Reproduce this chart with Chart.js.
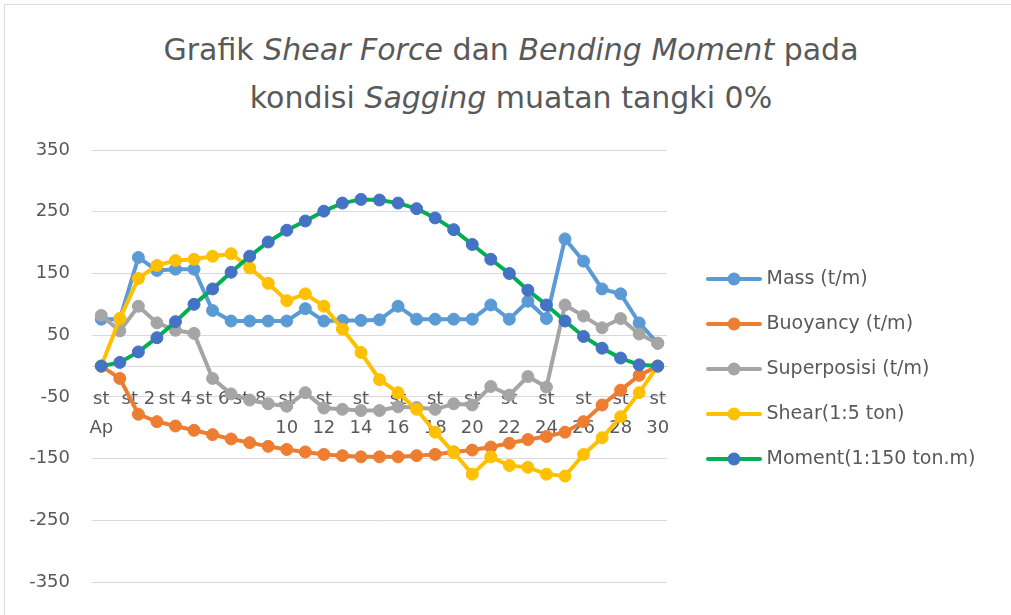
<!DOCTYPE html>
<html>
<head>
<meta charset="utf-8">
<script src="https://cdn.jsdelivr.net/npm/chart.js@4.4.1/dist/chart.umd.min.js"></script>
<style>
    html, body { margin: 0; padding: 0; background: #fff; overflow: hidden; }
    .chart-box { position: relative; width: 1011px; height: 615px; overflow: hidden; }
    .chart-frame { position: absolute; left: 4px; top: 4px; width: 1100px; height: 700px; border: 1px solid #d9d9d9; }
    .chart-title {
        position: absolute; left: 0; top: 26px; width: 1022px; text-align: center;
        font-family: "DejaVu Sans", sans-serif; font-size: 30px; line-height: 48px; color: #595959;
    }
    .chart-title i { font-style: italic; }
    canvas { position: absolute; left: 0; top: 0; }
</style>
</head>
<body>
<div class="chart-box">
    <div class="chart-frame"></div>
    <div class="chart-title">Grafik <i>Shear Force</i> dan <i>Bending Moment</i> pada<br>kondisi <i>Sagging</i> muatan tangki 0%</div>
    <canvas id="sf_bm_chart" width="1011" height="615"></canvas>
</div>
<script>
"use strict";

// Stations along the hull
var stations = ["st Ap", "st 1", "st 2", "st 3", "st 4", "st 5", "st 6", "st 7", "st 8", "st 9", "st 10",
    "st 11", "st 12", "st 13", "st 14", "st 15", "st 16", "st 17", "st 18", "st 19", "st 20",
    "st 21", "st 22", "st 23", "st 24", "st 25", "st 26", "st 27", "st 28", "st 29", "st 30"];

var massValues = [76, 76, 176, 155, 157, 157, 90, 73, 73, 73, 73, 93, 73, 74, 74, 75,
    97, 76, 76, 76, 76, 99, 76, 105, 77, 206, 170, 125, 117, 70, 37];
var buoyancyValues = [0, -20, -78, -90, -97, -104, -111, -118, -124, -130, -135, -139, -143, -145, -147, -147,
    -147, -145, -143, -139, -136, -131, -125, -119, -114, -107, -90, -63, -39, -15, 0];
var superposisiValues = [82, 57, 97, 70, 58, 53, -20, -45, -55, -61, -65, -43, -68, -70, -72, -72,
    -66, -67, -70, -61, -63, -33, -47, -17, -34, 99, 81, 62, 77, 52, 37];
var shearValues = [0, 77, 142, 163, 171, 173, 178, 182, 159, 134, 106, 117, 97, 60, 22, -22,
    -43, -70, -107, -140, -175, -147, -161, -164, -175, -178, -143, -116, -82, -43, 0];
var momentValues = [0, 6, 23, 46, 72, 100, 125, 152, 178, 201, 220, 235, 251, 264, 270, 269,
    264, 255, 240, 221, 197, 173, 150, 123, 99, 73, 48, 29, 13, 2, 0];

var yTicks = { min: -350, max: 350, step: 100 };

var SfBmChart = function () {
    var FONT = "DejaVu Sans";
    var TEXT_COLOR = "#595959";
    var GRID_COLOR = "#d9d9d9";
    var PLOT_RIGHT = 667;

    // small line + marker swatch used in the legend
    function makeLegendIcon(lineColor, markerColor) {
        var c = document.createElement("canvas");
        c.width = 74;
        c.height = 16;
        var g = c.getContext("2d");
        g.strokeStyle = lineColor;
        g.lineWidth = 4;
        g.lineCap = "round";
        g.beginPath();
        g.moveTo(20, 8);
        g.lineTo(72, 8);
        g.stroke();
        g.fillStyle = markerColor;
        g.beginPath();
        g.arc(46, 8, 6.5, 0, Math.PI * 2);
        g.fill();
        return c;
    }

    function series(label, values, lineColor, markerColor, order) {
        return {
            label: label,
            data: values,
            borderColor: lineColor,
            backgroundColor: markerColor,
            pointBackgroundColor: markerColor,
            pointBorderColor: markerColor,
            pointBorderWidth: 1,
            pointRadius: 6,
            borderWidth: 4,
            tension: 0,
            order: order,
            legendIcon: makeLegendIcon(lineColor, markerColor)
        };
    }

    var initChart = function () {
        var element = document.getElementById("sf_bm_chart");
        if (!element) {
            return;
        }

        Chart.defaults.font.family = FONT;
        Chart.defaults.color = TEXT_COLOR;

        var datasets = [
            series("Mass (t/m)", massValues, "#5B9BD5", "#5B9BD5", 5),
            series("Buoyancy (t/m)", buoyancyValues, "#ED7D31", "#ED7D31", 4),
            series("Superposisi (t/m)", superposisiValues, "#A5A5A5", "#A5A5A5", 3),
            series("Shear(1:5 ton)", shearValues, "#FFC000", "#FFC000", 2),
            series("Moment(1:150 ton.m)", momentValues, "#00B050", "#4472C4", 1)
        ];

        var legendFontSize = 19;
        var legendPadding = 26;
        var legendBoxWidth = 64;

        var config = {
            type: "line",
            data: {
                labels: stations,
                datasets: datasets
            },
            options: {
                responsive: false,
                animation: false,
                layout: {
                    padding: { top: 150, bottom: 27, left: 30, right: 0 }
                },
                scales: {
                    x: {
                        position: { y: 0 },
                        offset: true,
                        grid: { display: false, drawTicks: false },
                        border: { display: true, color: GRID_COLOR, width: 1 },
                        ticks: {
                            autoSkip: false,
                            maxRotation: 0,
                            padding: 19,
                            color: TEXT_COLOR,
                            font: { size: 18, lineHeight: 1.6 },
                            callback: function (value, index) {
                                if (index % 2 !== 0) {
                                    return "";
                                }
                                var text = this.getLabelForValue(value);
                                return text.length > 4 ? text.split(" ") : text;
                            }
                        }
                    },
                    y: {
                        min: yTicks.min,
                        max: yTicks.max,
                        afterFit: function (scale) {
                            scale.width = 62;
                        },
                        grid: { color: GRID_COLOR, lineWidth: 1, drawTicks: false },
                        border: { display: false },
                        ticks: {
                            stepSize: yTicks.step,
                            padding: 22,
                            color: TEXT_COLOR,
                            font: { size: 18 }
                        }
                    }
                },
                plugins: {
                    title: { display: false },
                    tooltip: { enabled: false },
                    legend: {
                        display: true,
                        position: "right",
                        maxWidth: 400,
                        labels: {
                            usePointStyle: true,
                            pointStyleWidth: legendBoxWidth,
                            padding: legendPadding,
                            color: TEXT_COLOR,
                            font: { size: legendFontSize },
                            generateLabels: function (chart) {
                                return chart.data.datasets.map(function (ds, i) {
                                    return {
                                        text: ds.label,
                                        datasetIndex: i,
                                        pointStyle: ds.legendIcon,
                                        fillStyle: ds.backgroundColor,
                                        strokeStyle: ds.borderColor,
                                        fontColor: TEXT_COLOR,
                                        lineWidth: 0,
                                        hidden: false
                                    };
                                });
                            }
                        }
                    }
                }
            }
        };

        var chart = new Chart(element.getContext("2d"), config);

        // the legend width depends on the measured labels: shift it so the plot ends at PLOT_RIGHT
        var shift = chart.chartArea.right - PLOT_RIGHT;
        if (Math.abs(shift) > 0.5) {
            chart.options.layout.padding.right = Math.max(0, shift);
            chart.update();
        }
        element.chartInstance = chart;
    };

    return {
        init: function () {
            initChart();
        }
    };
}();

document.addEventListener("DOMContentLoaded", function () {
    SfBmChart.init();
});
</script>
</body>
</html>
